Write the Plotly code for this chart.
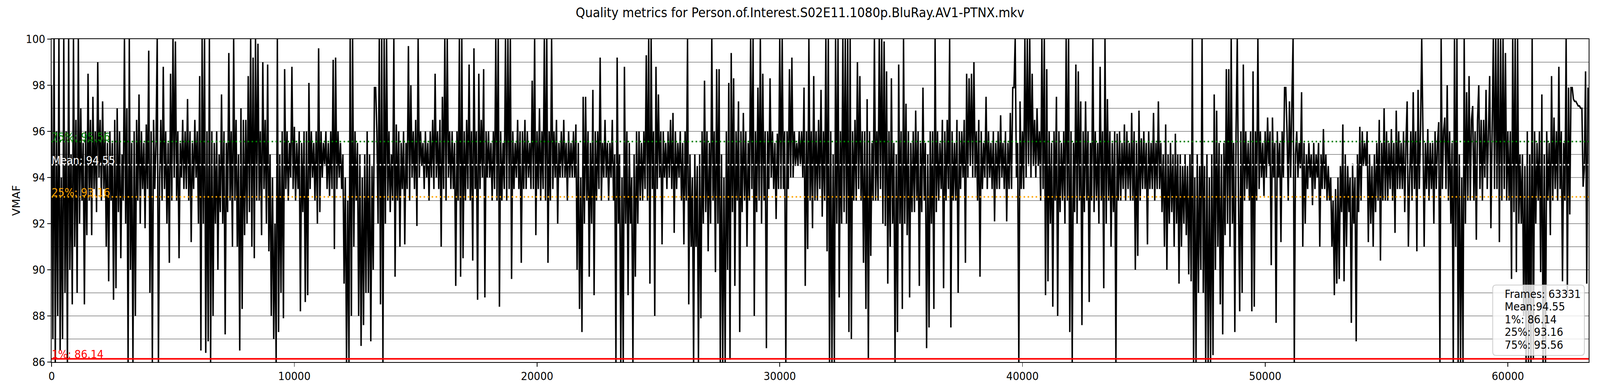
import plotly.graph_objects as go

title = "Quality metrics for Person.of.Interest.S02E11.1080p.BluRay.AV1-PTNX.mkv"
total_frames = 63331
mean_v = 94.55
p1 = 86.14
p25 = 93.16
p75 = 95.56
frame_step = 50
x_ticks = [0, 10000, 20000, 30000, 40000, 50000, 60000]

vmaf = [
    98, 87, 100, 86, 96, 88, 100, 86.5, 94, 87,
    100, 89, 96, 86, 100, 90, 95, 88.5, 100, 91,
    96.5, 89, 100, 92, 97, 93, 95.5, 88.5, 96, 91.5,
    98.5, 93, 96.5, 91.5, 97.5, 93.5, 96, 92.5, 99, 94,
    96.5, 93, 97.3, 93.5, 96, 91, 95.5, 89.5, 96, 93,
    95.5, 88.7, 96.5, 89.2, 97, 92.5, 96, 90.5, 95, 93,
    100, 92, 97, 86, 100, 90, 95.5, 86, 96, 88,
    96.5, 93, 97.6, 92, 96, 93.5, 95.5, 91.8, 96.3, 93.5,
    99.5, 89, 96, 86, 96.5, 93.5, 95.5, 100, 86, 94,
    96.5, 93, 98.8, 93.5, 96, 92, 95.5, 90.3, 98.5, 93,
    100, 94, 99.9, 93, 96, 90.5, 95.5, 94, 96.5, 93.5,
    96, 93.5, 97.4, 93, 96, 91.2, 95.5, 93.5, 96.5, 94,
    96, 92, 98.4, 86.5, 100, 92, 100, 86.4, 96, 86.9,
    100, 86, 96, 88, 95.5, 92, 96, 90, 95, 92.5,
    97.6, 92, 96, 87.2, 95.5, 92.5, 99.4, 93, 96, 91,
    100, 93, 96.5, 91, 95, 86.5, 97, 88.3, 96.5, 91.5,
    96.5, 92, 98.4, 92.5, 100, 91, 99.2, 90.5, 100, 93,
    99.8, 93, 96, 91.5, 99, 93.5, 96.5, 92, 98.9, 90.8,
    95, 88, 94, 87, 92, 86, 100, 87.3, 95, 89,
    96, 87.9, 98.7, 93.5, 96, 93, 95.5, 94, 98.8, 93.5,
    96.2, 93, 95.5, 93.5, 96, 88.2, 95.5, 92.5, 96, 88.6,
    96, 88.9, 98.1, 93.5, 96, 94, 95.5, 93, 96, 92,
    99.6, 92.5, 96, 94, 95.5, 94.5, 96, 93.5, 95.5, 93.2,
    96, 93.5, 99.1, 90.9, 99.2, 93.5, 96, 94, 95.5, 93.5,
    95, 89.4, 94, 86, 93, 86, 100, 88, 100, 91,
    96, 93, 95.5, 88, 95, 86.7, 94, 87.6, 95, 89,
    96, 89, 95, 86.9, 94.5, 90, 97.9, 97.9, 96, 92,
    100, 88.5, 100, 86, 100, 92, 100, 93, 96, 92.5,
    95, 93, 100, 89.7, 96.3, 93, 96, 91, 95.5, 93.5,
    96, 91.1, 95.5, 93.5, 99.7, 93, 98, 94, 96, 93.5,
    96.5, 91.9, 100, 94, 96, 94.5, 95.5, 93.5, 96, 94,
    95.5, 93, 96, 94, 96.5, 93.5, 98.5, 94, 96, 93.5,
    96.5, 91, 97.5, 93.5, 100, 93, 100, 94, 96, 93.5,
    96, 93.5, 95.5, 89.3, 96, 93, 100, 89.7, 100, 90.5,
    96, 93, 96.5, 93.5, 98.9, 93, 96, 90.4, 99.6, 93.5,
    96, 88.7, 98.5, 93.5, 96.5, 94, 98.7, 88.8, 96, 94,
    96, 94, 95.5, 93, 96, 93.5, 100, 93, 100, 88.4,
    96, 93, 95.5, 93.5, 100, 93, 100, 93.5, 100, 89.6,
    96, 93.5, 95.5, 94, 96.5, 93.5, 96, 90.3, 96, 93.5,
    96.5, 93.5, 96, 94, 95.5, 93.5, 98.2, 93.5, 100, 91.5,
    96, 93.5, 97, 93, 96, 93.5, 100, 93, 100, 90.3,
    96, 93, 100, 93.5, 96, 94, 96.5, 92, 95.5, 94,
    96, 94, 96.5, 94, 95.5, 93, 96, 94, 95.5, 94,
    96, 94, 96.3, 90, 95.5, 88.3, 94, 87.3, 97.5, 92,
    97.5, 93, 96, 89.7, 95.5, 92, 97.8, 88.9, 96, 93,
    96, 93.5, 99.2, 93, 95.5, 94, 96.5, 94, 95.5, 93,
    95.5, 94, 96.5, 93, 95, 86, 99.2, 92, 95, 86,
    94, 86, 98.8, 92, 96, 88.9, 95.5, 92, 94, 86,
    95, 89.7, 96, 92, 96, 93, 95.5, 93, 96, 93.5,
    99.3, 93, 100, 89.4, 100, 93.5, 96, 88, 98.8, 93.5,
    97.6, 94, 96, 91.1, 96, 94, 95.5, 93.5, 96, 94,
    96.5, 93.5, 96.8, 91.6, 96, 93.5, 95.5, 94, 96, 93,
    95.5, 91.1, 96, 93, 100, 88.5, 95, 91, 94, 86,
    95, 91, 94.5, 86, 95, 87.9, 96, 92, 98.2, 92.5,
    96, 90.8, 95.5, 92, 100, 93, 96, 89.9, 98.7, 92,
    98.7, 86, 95, 86, 94, 86, 96, 90, 98.1, 86.1,
    99.4, 92.5, 98.3, 89.3, 96, 93, 97.3, 87.3, 96, 92.5,
    96.8, 93, 96, 91, 95.5, 93, 100, 93.5, 100, 88,
    96, 92.5, 97.9, 93, 100, 92, 98.5, 93, 96, 86.6,
    96, 93.5, 98.3, 94, 96, 93.5, 95.5, 92.2, 95.9, 93.5,
    100, 93.5, 100, 93.5, 96, 86, 96, 93.5, 98.7, 94,
    99.2, 94, 96, 94.5, 95.5, 94.5, 96, 94.5, 96, 94,
    97.9, 89.3, 96, 90.9, 100, 93, 96, 91.8, 98.4, 93,
    96, 93, 96.5, 93.5, 97.8, 92.3, 96, 93, 100, 90.8,
    100, 86, 96, 86, 95, 86, 100, 92, 100, 88.8,
    96, 92, 100, 92.5, 100, 92, 100, 87.3, 100, 87,
    96, 93, 96.5, 93, 99, 93.5, 98.4, 93, 96, 90.3,
    96, 88.3, 97.4, 86.1, 96, 90.6, 95.5, 93, 100, 93,
    96, 93, 100, 93.5, 100, 92, 99.9, 91.9, 98.6, 89.4,
    96, 91, 98.3, 92, 95.5, 86, 95, 87.3, 98.9, 92,
    96, 88.3, 100, 92, 97.2, 91.5, 96, 88.8, 95.5, 92.5,
    96, 92.5, 96.9, 93, 96, 89.3, 95.5, 92.5, 97.9, 93,
    95.5, 86.6, 95, 87.5, 96, 92, 96, 88.3, 100, 92.5,
    96, 93, 95.5, 93.5, 96.5, 89.2, 96, 93, 96.5, 93.5,
    100, 87.5, 96, 93, 95.5, 93, 96.5, 89, 96, 93.5,
    96, 94, 96.5, 90.3, 98.5, 94, 98.3, 94.5, 98.5, 94,
    99, 94, 96, 93, 96.5, 89.7, 96, 93.5, 95.5, 94,
    97.5, 93.5, 96, 94, 95.5, 93.5, 96, 92.1, 95.5, 93.5,
    96, 93.5, 96.7, 94, 95.5, 93.5, 96, 92.1, 95.5, 93.5,
    96.8, 93.5, 97.9, 97.9, 100, 94, 95.5, 86, 97.3, 93.5,
    96, 93.5, 100, 94, 100, 94.5, 100, 94, 98.5, 94.5,
    96.5, 94, 97, 94.5, 96, 93, 100, 93.5, 100, 88.9,
    98.7, 89.5, 96, 92, 95.5, 88.4, 96, 93, 97.5, 88,
    96, 92.5, 95.5, 93, 96, 92, 100, 93, 100, 87.3,
    96, 86, 95.5, 92.5, 98.9, 92, 98.6, 93, 97.3, 87.6,
    96, 92.5, 97.3, 93, 96, 88.6, 95.5, 93, 100, 92.5,
    96, 93, 95.5, 92, 98.8, 93, 96, 89.2, 100, 92,
    97.4, 93, 96, 91, 95.5, 92.5, 96, 86, 95.9, 93,
    96, 93, 95.5, 93.5, 96.3, 93, 96, 93.5, 95.5, 93,
    96.8, 93, 96, 90, 95.5, 90.6, 96.9, 93, 95.7, 93.5,
    96, 93.5, 95.5, 91.1, 96, 93.5, 95.5, 93.5, 96.8, 93,
    95.5, 93.5, 97.3, 93.5, 95.5, 92.5, 95, 91, 96.3, 90,
    95, 92, 95.5, 92.5, 95, 91, 95.9, 92, 95, 89.4,
    95, 91, 94.5, 92, 95, 91.5, 94.5, 89.8, 95, 89.5,
    100, 86, 94, 86, 95, 89, 94.5, 90, 100, 89,
    94.5, 86, 95, 86, 94, 86, 95, 86.3, 97.6, 90,
    96.9, 91, 95.5, 88.5, 95, 87.2, 95.5, 91.5, 98.7, 92,
    98.7, 91, 100, 92, 95.5, 87.3, 96, 100, 93, 88.2,
    96, 89, 98.9, 93, 96, 93.5, 95.5, 93, 96, 88.2,
    98.6, 88.4, 96, 93, 100, 93.5, 96, 94, 95.5, 93.2,
    96, 94, 96.6, 94.5, 96, 90.2, 96.6, 94, 95.5, 87.7,
    96, 94, 95.5, 91.2, 96, 94, 97.9, 97.9, 96, 93,
    97.3, 94, 97.3, 100, 86, 95, 96, 94, 95.5, 94.4,
    97.7, 91, 95.5, 92, 95, 93.5, 95.5, 94, 95, 92.8,
    95.5, 93.5, 95, 94, 95.5, 91, 95, 93.5, 96.1, 93.5,
    95, 93, 94.5, 93, 94, 91, 93, 88.9, 93.5, 89.4,
    94, 89.6, 94.5, 92.5, 96.3, 89.5, 95, 91, 94.5, 92.5,
    94, 87.7, 94.6, 92, 94, 86.9, 95, 92.5, 96.2, 93,
    96, 94.5, 95.5, 94.5, 96, 91.2, 95, 92, 94.5, 91,
    95, 92.5, 95.5, 93, 96.5, 90.4, 95.5, 93, 97, 93,
    96, 93, 95.5, 93.5, 96.1, 93, 95.5, 91.6, 96.9, 93.5,
    96, 93.5, 95.5, 93.5, 96, 92.5, 95.5, 97.3, 91, 94,
    96, 93, 97.7, 93.5, 96, 90.8, 97.8, 93.5, 96, 100,
    96, 91, 95.5, 93.5, 96.1, 93, 95.5, 93.5, 95.5, 92,
    96, 93.5, 95.5, 96.4, 86, 100, 93.5, 96, 96.6, 93.5,
    98, 93, 96, 92, 95.5, 86, 100, 91, 100, 86,
    95, 86, 94, 86, 100, 92, 97.7, 93, 98.4, 93,
    96.5, 97.1, 93, 96, 91.3, 96.5, 98, 93.5, 96.5, 93,
    96.5, 94, 97.8, 93.5, 96, 98.4, 91.8, 96, 100, 93.5,
    100, 93.5, 100, 91.2, 100, 93, 100, 93.5, 99.4, 93,
    96, 93, 96, 89.6, 100, 92.5, 100, 89.9, 100, 92,
    95, 92, 95, 88, 94.5, 86, 96, 86, 95, 86,
    100, 86.1, 96, 92, 95.5, 93, 96, 89.9, 97.6, 86,
    95, 86, 96, 93, 95.5, 91.5, 98.4, 93, 96.6, 93.5,
    96, 93, 98.8, 93.5, 96, 89.5, 95.5, 93, 100, 88.9,
    97.9, 92.4, 97.9, 97.9, 97.4, 97.3, 97.3, 97.2, 97.1, 97.1,
    97.0, 97.0, 93.6, 94.4, 98.6, 89.4, 97.9,
]
frames = [i * frame_step for i in range(len(vmaf))]

stat_lines = [
    (f"75%: {p75:.2f}", p75, "green"),
    (f"Mean: {mean_v:.2f}", mean_v, "white"),
    (f"25%: {p25:.2f}", p25, "orange"),
    (f"1%: {p1:.2f}", p1, "red"),
]
legend_lines = [
    f"Frames: {total_frames}",
    f"Mean:{mean_v:.2f}",
    f"1%: {p1:.2f}",
    f"25%: {p25:.2f}",
    f"75%: {p75:.2f}",
]

FONT = "DejaVu Sans"
W, H = 4400, 1000
L, R, T, B = 142, 31, 100, 74
PW, PH = W - L - R, H - T - B

fig = go.Figure()
fig.add_trace(go.Scatter(x=frames, y=vmaf, mode="lines",
                         line=dict(color="black", width=4), hoverinfo="skip",
                         showlegend=False))

shapes = []
for yv in (95, 90):
    shapes.append(dict(type="line", xref="paper", x0=0, x1=1, yref="y", y0=yv, y1=yv,
                       line=dict(color="black", width=2.2), layer="below"))
shapes.append(dict(type="line", xref="paper", x0=0, x1=1, yref="y", y0=p75, y1=p75,
                   line=dict(color="green", width=4, dash="4px,7px"), layer="above"))
shapes.append(dict(type="line", xref="paper", x0=0, x1=1, yref="y", y0=mean_v, y1=mean_v,
                   line=dict(color="white", width=4, dash="4px,7px"), layer="above"))
shapes.append(dict(type="line", xref="paper", x0=0, x1=1, yref="y", y0=p25, y1=p25,
                   line=dict(color="orange", width=4, dash="4px,7px"), layer="above"))
shapes.append(dict(type="line", xref="paper", x0=0, x1=1, yref="y", y0=p1, y1=p1,
                   line=dict(color="red", width=4), layer="above"))

bx0, bx1 = (4105 - L) / PW, (4357 - L) / PW
by0, by1 = (T + PH - 909) / PH, (T + PH - 729) / PH
rx, ry = 9 / PW, 9 / PH
path = (f"M {bx0+rx},{by0} L {bx1-rx},{by0} Q {bx1},{by0} {bx1},{by0+ry} "
        f"L {bx1},{by1-ry} Q {bx1},{by1} {bx1-rx},{by1} "
        f"L {bx0+rx},{by1} Q {bx0},{by1} {bx0},{by1-ry} "
        f"L {bx0},{by0+ry} Q {bx0},{by0} {bx0+rx},{by0} Z")
shapes.append(dict(type="path", xref="paper", yref="paper", path=path,
                   fillcolor="rgba(255,255,255,0.8)",
                   line=dict(color="rgba(200,200,200,0.9)", width=2.2), layer="above"))

annotations = []
for txt, yv, col in stat_lines:
    annotations.append(dict(x=0, y=yv, xref="x", yref="y", text=txt, showarrow=False,
                            xanchor="left", yanchor="bottom", yshift=-7, xshift=-2,
                            font=dict(family=FONT, size=28, color=col)))
line_y = [752, 784, 817, 849, 882]
for txt, py in zip(legend_lines, line_y):
    annotations.append(dict(x=(4136 - L) / PW, y=(T + PH - py) / PH, xref="paper", yref="paper",
                            text=txt, showarrow=False, xanchor="left", yanchor="middle",
                            font=dict(family=FONT, size=28, color="black")))
annotations.append(dict(x=-(L - 45) / PW, y=0.5, xref="paper", yref="paper", text="VMAF",
                        textangle=-90, showarrow=False, xanchor="center", yanchor="middle",
                        font=dict(family=FONT, size=28, color="black")))

fig.update_layout(
    width=W, height=H,
    margin=dict(l=L, r=R, t=T, b=B, pad=0),
    paper_bgcolor="white", plot_bgcolor="white",
    title=dict(text=title, x=0.5, xref="container", xanchor="center",
               y=1 - 32 / H, yref="container", yanchor="middle",
               font=dict(family=FONT, size=33, color="black")),
    shapes=shapes, annotations=annotations,
    font=dict(family=FONT, size=28, color="black"),
    showlegend=False,
)
fig.update_xaxes(range=[0, total_frames], tickvals=x_ticks, ticktext=[str(t) for t in x_ticks],
                 ticks="outside", ticklen=10, tickwidth=2, tickcolor="black",
                 showline=True, linecolor="black", linewidth=2, mirror=True,
                 showgrid=False, zeroline=False,
                 tickfont=dict(family=FONT, size=28, color="black"))
fig.update_yaxes(range=[86, 100], tick0=86, dtick=2,
                 ticks="outside", ticklen=10, tickwidth=2, tickcolor="black",
                 showline=True, linecolor="black", linewidth=2, mirror=True,
                 showgrid=True, gridcolor="#999999", gridwidth=1.5, zeroline=False,
                 minor=dict(dtick=1, tick0=86, showgrid=True, gridcolor="#999999",
                            gridwidth=1.5, ticks=""),
                 tickfont=dict(family=FONT, size=28, color="black"))

# fit the 4400x1000 figure into whatever viewport the page is opened in
fit_js = """
(function(){
  document.documentElement.style.overflow = 'hidden';
  document.body.style.margin = '0';
  document.body.style.overflow = 'hidden';
  var gd = document.getElementById('{plot_id}');
  var sx = window.innerWidth / %d, sy = window.innerHeight / %d;
  if (sx > 1) sx = 1;
  if (sy > 1) sy = 1;
  gd.style.transformOrigin = '0 0';
  gd.style.transform = 'scale(' + sx + ',' + sy + ')';
})();
""" % (W, H)

fig.write_html("out.html", post_script=fit_js, config={"displayModeBar": False})
